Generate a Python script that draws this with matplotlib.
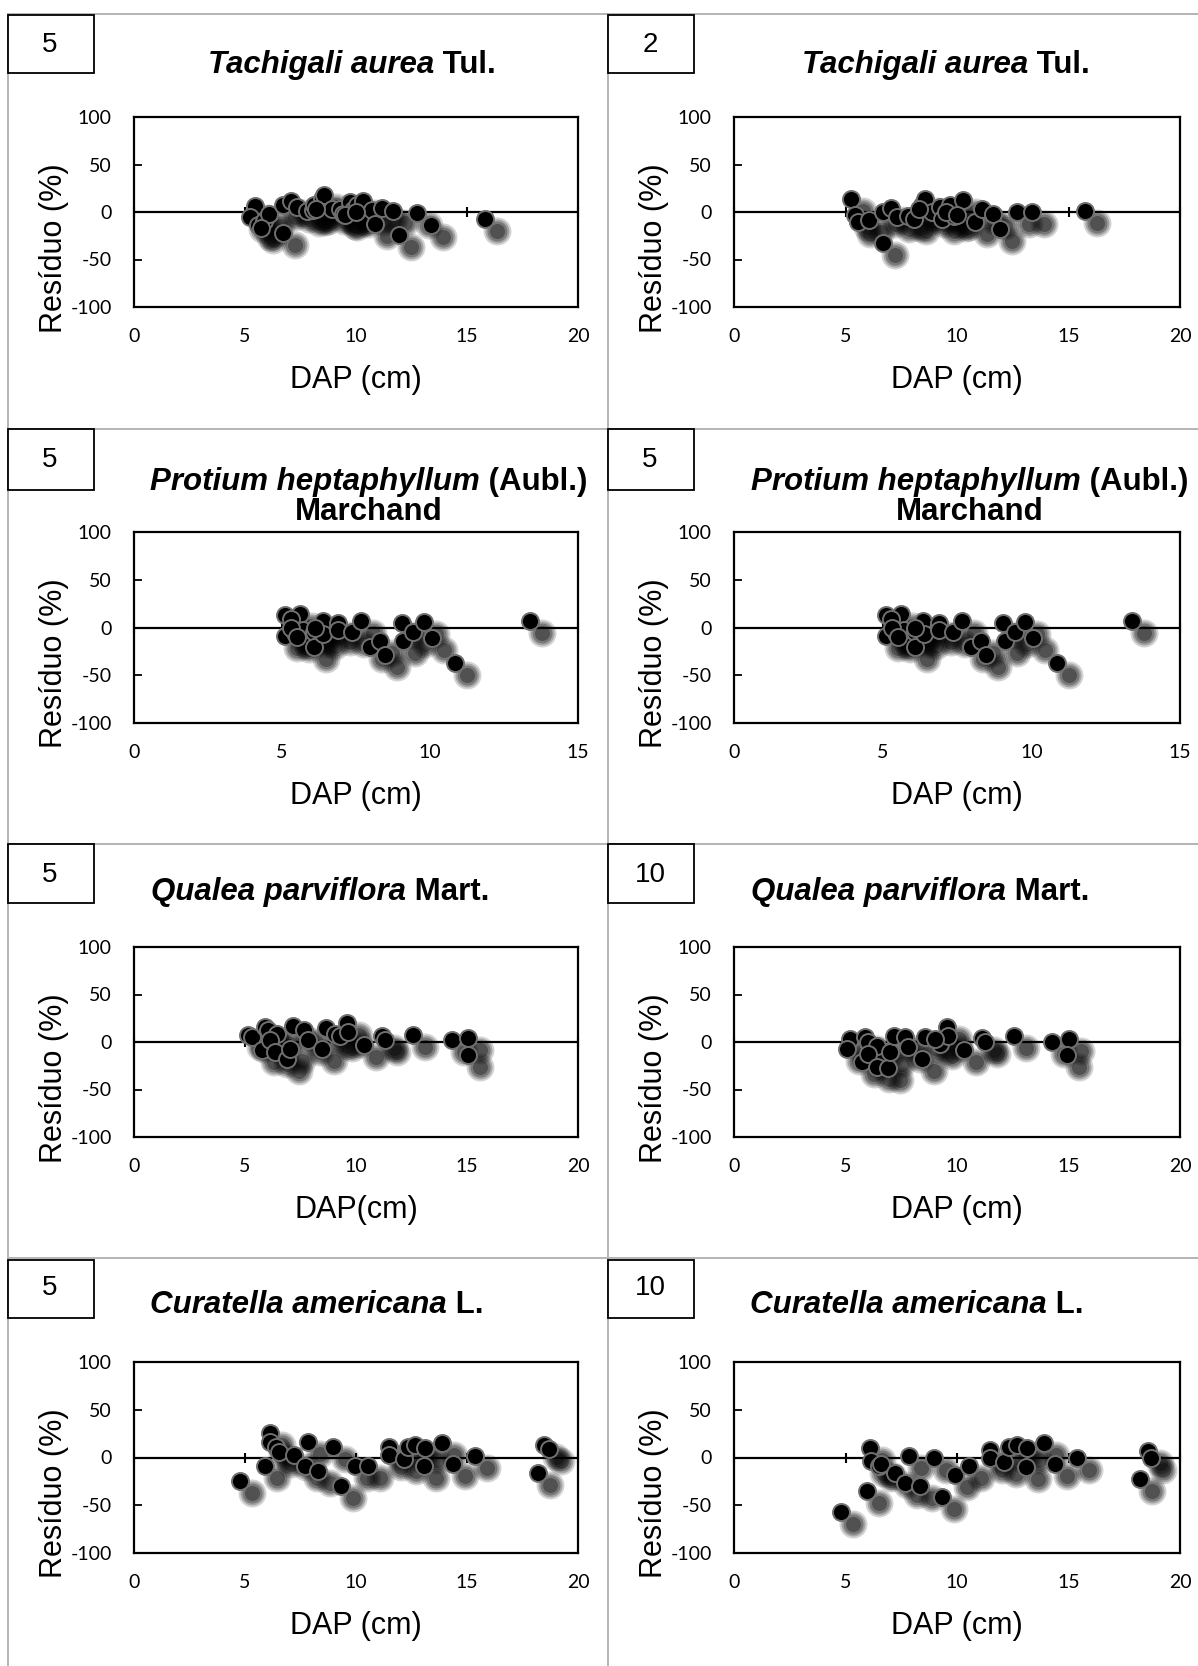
# residuos.py

import numpy as np
import matplotlib
matplotlib.use("Agg")
import matplotlib.pyplot as plt
import matplotlib.transforms as mtransforms
from matplotlib.patches import Rectangle
from matplotlib.lines import Line2D

# data ############################################################################################
# Tachigali aurea, classe 5
TA5_DAP = [5.45, 5.23, 5.6, 5.87, 6.1, 6.73, 6.73, 7.06, 7.33, 7.78, 8.08, 8.12, 8.48, 8.57, 8.9,
           9.28, 9.43, 9.73, 9.88, 10.03, 10.33, 10.7, 10.86, 11.16, 11.68, 11.94, 12.76, 13.38,
           15.81, 8.2, 9.5, 10.0, 5.7]
TA5_RES = [6.3, -5.3, -14, -9.8, -1.7, -21.7, 7.8, 11.3, 5.3, 0.7, 2.4, 7.8, 14, 18.3, 3.5,
           3.5, -1.7, 10.5, 2.4, 7.4, 11.3, 2.4, -12.3, 4.2, 0.7, -24.5, -0.7, -13.3,
           -7.7, 3, -3, 0, -17]
# Tachigali aurea, classe 2
TA2_DAP = [5.25, 5.43, 5.58, 6.07, 6.7, 6.7, 7.03, 7.3, 7.79, 8.09, 8.45, 8.57, 8.87, 9.24, 9.34,
           9.69, 9.88, 10.28, 10.81, 11.13, 11.63, 11.93, 12.7, 13.35, 15.74, 8.3, 9.5, 10.0]
TA2_RES = [14, -2.8, -10, -8.7, -32.2, 0, 4.6, -5.3, -4.2, -7.7, 7.8, 13.4, 0, 5.3, -7,
           7.8, -4.2, 12.3, -10, 2.8, -1.7, -18.2, 0, 0, 0.7, 3, 0, -3]
# Protium heptaphyllum (same points in both panels)
PH_DAP = [5.1, 5.61, 5.29, 5.1, 5.45, 5.72, 6.09, 6.09, 6.37, 6.4, 6.9, 6.88, 7.35, 7.66, 7.97,
          8.31, 8.48, 9.04, 9.1, 9.44, 9.8, 10.06, 10.85, 13.38, 5.3, 5.5, 6.1]
PH_RES = [13.3, 14, 9.1, -8.7, -5.6, -2.1, -4.9, -19.9, 7, -7, 4.5, -3.1, -4.9, 7, -19.9,
          -14, -28.6, 4.5, -14, -4.9, 5.6, -11.2, -37.4, 7, 0, -10, 0]
# Qualea parviflora, classe 5
QP5_DAP = [5.15, 5.3, 5.9, 6.05, 6.43, 5.75, 6.12, 6.35, 6.88, 7.03, 7.18, 7.67, 7.82, 8.48, 8.63,
           9.05, 9.28, 9.61, 9.66, 10.37, 11.16, 11.3, 12.58, 14.34, 15.03, 15.03]
QP5_RES = [7, 5.3, 15.8, 12.3, 8.1, -8.8, 1.8, -10.2, -17.5, -7, 16.5, 13, 2.5, -7.7, 14.4,
           8.4, 6, 20.4, 10.5, -3.5, 6, 1.8, 7, 2.5, 3.9, -14]
# Qualea parviflora, classe 10
QP10_DAP = [5.2, 5.05, 5.87, 6.02, 5.73, 6.4, 6.02, 6.4, 6.92, 7.0, 7.19, 7.67, 7.82, 8.44, 8.57,
            9.24, 9.54, 9.61, 10.33, 11.1, 11.25, 12.56, 14.27, 15.0, 14.95, 9.0]
QP10_RES = [3.4, -7.2, 5.3, 0, -21.2, -3.7, -12.6, -25.8, -27.5, -10.7, 6.8, 5.3, -5.4, -18.4, 5.3,
            -1.9, 15.6, 6.1, -8.9, 4, 0.5, 6.8, -0.2, 3.4, -14.2, 3]
# Curatella americana, classe 5
CA5_DAP = [4.79, 5.91, 6.12, 6.12, 6.38, 6.55, 7.2, 7.7, 7.86, 8.3, 8.96, 9.31, 9.94, 10.55, 11.5,
           11.47, 12.15, 12.32, 12.67, 13.1, 13.07, 13.88, 14.39, 15.34, 18.18, 18.48, 18.7]
CA5_RES = [-24.4, -8.9, 26, 16.6, 10.7, 6.2, 2.6, -8.9, 16.6, -14.2, 10.7, -29.9, -8.9, -8.9, 10.7,
           2.6, -1.8, 11.4, 13, 9.6, -8.9, 15.4, -6.3, 1.9, -16.6, 13, 8.4]
# Curatella americana, classe 10
CA10_DAP = [4.8, 5.95, 6.12, 6.14, 6.52, 6.6, 7.2, 7.67, 7.86, 8.32, 8.96, 9.32, 9.92, 10.55, 11.5,
            11.5, 12.1, 12.35, 12.7, 13.13, 13.1, 13.9, 14.38, 15.36, 18.19, 18.57, 18.7]
CA10_RES = [-56.9, -34.8, 9.6, -3.3, -8.9, -6.3, -15.9, -26.4, 1.9, -29.9, -0.9, -41.8, -18.4, -8.9, 7.9,
            -0.9, -4.4, 10.7, 13, 9.6, -10.3, 15.4, -6.3, 0, -22.9, 7.2, -0.9]

BOX_NUMBERS = [["5", "2"], ["5", "5"], ["5", "10"], ["5", "10"]]
SPECIES = [("Tachigali aurea", " Tul.", None),
           ("Protium heptaphyllum", " (Aubl.)", "Marchand"),
           ("Qualea parviflora", " Mart.", None),
           ("Curatella americana", " L.", None)]
X_MAX = [20, 15, 20, 20]
X_LABELS = [["DAP (cm)", "DAP (cm)"], ["DAP (cm)", "DAP (cm)"],
            ["DAP(cm)", "DAP (cm)"], ["DAP (cm)", "DAP (cm)"]]
Y_LABEL = "Resíduo (%)"
Y_TICKS = [-100, -50, 0, 50, 100]
SERIES = [[(TA5_DAP, TA5_RES), (TA2_DAP, TA2_RES)],
          [(PH_DAP, PH_RES), (PH_DAP, PH_RES)],
          [(QP5_DAP, QP5_RES), (QP10_DAP, QP10_RES)],
          [(CA5_DAP, CA5_RES), (CA10_DAP, CA10_RES)]]

# layout, in pixels of the 1198 x 1666 image ####################################################
W, H = 1198, 1666
COL_AXES_X = [(134, 578), (734, 1180)]
ROW_AXES_Y = [(117, 307), (532, 723), (947, 1137), (1362, 1553)]
ROW_TOP = [14, 429, 844, 1258]                 # gray panel borders
BOX_Y = [(15, 73), (429, 490), (844, 903), (1260, 1318)]
COL_LEFT = [8, 608]
TITLE_BASE = [73, 490, 900, 1313]
TITLE_CX = [[352, 946], [369, 970], [320, 920], [317, 917]]
NUM_Y = [45, 460, 875, 1288]

FONT = ['Liberation Sans', 'DejaVu Sans']
TICK_FONT = 'Lato'
MARKER_PX = 17                                 # marker diameter in pixels
SHADOW_LAYERS = [(28, 0.17), (24, 0.22), (20, 0.27), (15, 0.32)]   # (diameter px, alpha)


def fx(px):
    return px / W


def fy(py):
    return 1 - py / H


def px_to_s(d):
    return (d * 72.0 / 100.0) ** 2             # scatter size (pt^2) from a pixel diameter


###################################################################################################
def draw_title(fig, renderer, cx, base, italic_part, rest):
    t1 = fig.text(0, fy(base), italic_part, fontsize=22.5, fontweight='bold', fontstyle='italic',
                  family=FONT, va='baseline', ha='left')
    t2 = fig.text(0, fy(base), rest, fontsize=22.5, fontweight='bold', family=FONT,
                  va='baseline', ha='left')
    w1 = t1.get_window_extent(renderer).width
    w2 = t2.get_window_extent(renderer).width
    x0 = cx - (w1 + w2) / 2.0
    t1.set_x(fx(x0))
    t2.set_x(fx(x0 + w1))


def draw_panel(fig, row, col):
    x0, x1 = COL_AXES_X[col]
    y0, y1 = ROW_AXES_Y[row]
    ax = fig.add_axes([fx(x0), fy(y1), (x1 - x0) / W, (y1 - y0) / H])

    dap, res = SERIES[row][col]
    xmax = X_MAX[row]

    # blurred drop shadow: a few stacked translucent discs, shifted right and down
    shadow_tr = mtransforms.offset_copy(ax.transData, fig=fig, x=12, y=-12, units='dots')
    for d, a in SHADOW_LAYERS:
        ax.scatter(dap, res, s=px_to_s(d), color='black', alpha=a, linewidths=0,
                   transform=shadow_tr, zorder=1)

    ax.axhline(0, color='black', lw=1.6, zorder=2)
    xt = np.arange(0, xmax + 1, 5)
    ax.plot(xt, np.zeros_like(xt), linestyle='none', marker='|', markersize=7, mew=1.5,
            color='black', clip_on=False, zorder=2)

    ax.scatter(dap, res, s=px_to_s(MARKER_PX), facecolor='black', edgecolor='#6f6f6f',
               linewidths=1.4, zorder=3)

    ax.set_xlim(0, xmax)
    ax.set_ylim(-100, 100)
    ax.set_xticks(xt)
    ax.set_yticks(Y_TICKS)
    ax.tick_params(axis='y', direction='in', length=6, width=1.3, pad=16, labelsize=14,
                   labelfontfamily=TICK_FONT)
    ax.tick_params(axis='x', length=0, pad=15, labelsize=14, labelfontfamily=TICK_FONT)
    for sp in ax.spines.values():
        sp.set_linewidth(1.6)
        sp.set_color('black')

    # axis titles placed like the original (y title sits a bit low)
    fig.text(fx(COL_LEFT[col] + 46), fy((y0 + y1) / 2.0 + 36), Y_LABEL, fontsize=22,
             family=FONT, rotation=90, ha='center', va='center')
    fig.text(fx((x0 + x1) / 2.0), fy(y1 + 73), X_LABELS[row][col], fontsize=22,
             family=FONT, ha='center', va='center')
    return ax


###################################################################################################
def main():
    plt.rcParams['font.family'] = FONT
    plt.rcParams['axes.unicode_minus'] = False
    fig = plt.figure(figsize=(W / 100.0, H / 100.0), dpi=100)
    renderer = fig.canvas.get_renderer()

    # gray panel grid
    for y in ROW_TOP:
        fig.add_artist(Line2D([fx(8), 1], [fy(y), fy(y)], color='#a8a8a8', lw=1.2))
    for x in COL_LEFT:
        fig.add_artist(Line2D([fx(x), fx(x)], [fy(ROW_TOP[0]), 0], color='#a8a8a8', lw=1.2))

    for row in range(4):
        for col in range(2):
            draw_panel(fig, row, col)

            # number box at top left corner of the panel
            bx = COL_LEFT[col]
            by0, by1 = BOX_Y[row]
            fig.add_artist(Rectangle((fx(bx), fy(by1)), 86 / W, (by1 - by0) / H,
                                     facecolor='white', edgecolor='black', lw=1.3, zorder=5))
            fig.text(fx(bx + 42), fy(NUM_Y[row]), BOX_NUMBERS[row][col], fontsize=20,
                     family=FONT, ha='center', va='center', zorder=6)

            italic_part, rest, line2 = SPECIES[row]
            cx = TITLE_CX[row][col]
            draw_title(fig, renderer, cx, TITLE_BASE[row], italic_part, rest)
            if line2 is not None:
                fig.text(fx(cx), fy(TITLE_BASE[row] + 30), line2, fontsize=22.5,
                         fontweight='bold', family=FONT, ha='center', va='baseline')

    fig.savefig("out.png", dpi=100, facecolor='white')
    return


###################################################################################################
if __name__ == "__main__":
    main()
# end if
